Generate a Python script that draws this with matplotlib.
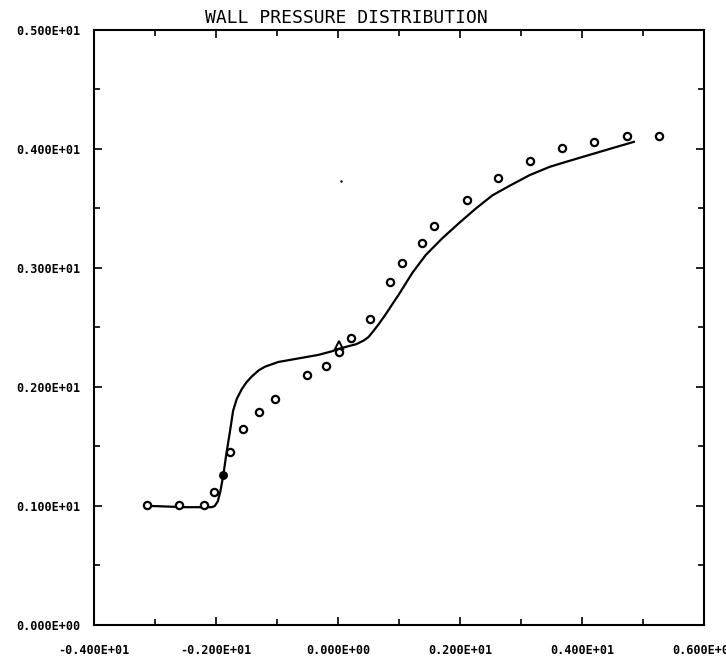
import numpy as np
import matplotlib
matplotlib.use('Agg')
import matplotlib.pyplot as plt
from matplotlib.ticker import MultipleLocator, FuncFormatter

# computed wall pressure (solid line)
calc_x = [-3.06, -2.51, -2.07, -2.02, -1.97, -1.93, -1.88, -1.83, -1.77, -1.72,
          -1.66, -1.58, -1.50, -1.41, -1.30, -1.20, -0.98, -0.65, -0.32, -0.10,
          0.01, 0.15, 0.30, 0.42, 0.50, 0.58, 0.67, 0.78, 1.00, 1.22,
          1.44, 1.71, 1.99, 2.26, 2.53, 2.81, 3.14, 3.47, 3.79, 4.12,
          4.45, 4.85]
calc_p = [1.00, 0.99, 0.99, 1.00, 1.04, 1.12, 1.26, 1.44, 1.63, 1.80,
          1.90, 1.98, 2.04, 2.09, 2.14, 2.17, 2.21, 2.24, 2.27, 2.30,
          2.32, 2.34, 2.36, 2.39, 2.42, 2.47, 2.53, 2.61, 2.78, 2.96,
          3.11, 3.25, 3.38, 3.50, 3.61, 3.69, 3.78, 3.85, 3.90, 3.95,
          4.00, 4.06]

# measured wall pressure (open circles)
meas_x = [-3.13, -2.61, -2.19, -2.03, -1.77, -1.56, -1.30, -1.04, -0.51, -0.20,
          0.01, 0.22, 0.53, 0.85, 1.05, 1.37, 1.58, 2.11, 2.63, 3.15,
          3.68, 4.20, 4.73, 5.26]
meas_p = [1.01, 1.01, 1.01, 1.12, 1.45, 1.65, 1.79, 1.90, 2.10, 2.18,
          2.29, 2.41, 2.57, 2.88, 3.04, 3.21, 3.35, 3.57, 3.76, 3.90,
          4.01, 4.06, 4.11, 4.11]

# special symbols
solid_x, solid_p = [-1.88], [1.26]
tri_x, tri_p = [0.01], [2.35]
speck_x, speck_p = [0.05], [3.73]


def fortran_fmt(v, pos=None):
    if abs(v) < 1e-12:
        return '0.000E+00'
    e = int(np.floor(np.log10(abs(v)))) + 1
    m = v / 10.0**e
    return f'{m:.3f}E{e:+03d}'


fig = plt.figure(figsize=(7.26, 6.62), dpi=100)
fig.patch.set_facecolor('white')
ax = fig.add_axes([0.1295, 0.0559, 0.8402, 0.8988])

ax.plot(calc_x, calc_p, color='black', lw=1.6, solid_joinstyle='round')
ax.plot(meas_x, meas_p, 'o', ms=5.2, mfc='white', mec='black', mew=1.6)
ax.plot(solid_x, solid_p, 'o', ms=5.2, mfc='black', mec='black', mew=1.2)
ax.plot(tri_x, tri_p, '^', ms=6, mfc='none', mec='black', mew=1.4)
ax.plot(speck_x, speck_p, '.', ms=1.5, color='black')

ax.set_xlim(-4, 6)
ax.set_ylim(0, 5)
ax.xaxis.set_major_locator(MultipleLocator(2))
ax.xaxis.set_minor_locator(MultipleLocator(1))
ax.yaxis.set_major_locator(MultipleLocator(1))
ax.yaxis.set_minor_locator(MultipleLocator(0.5))
ax.xaxis.set_major_formatter(FuncFormatter(fortran_fmt))
ax.yaxis.set_major_formatter(FuncFormatter(fortran_fmt))

for s in ax.spines.values():
    s.set_linewidth(1.5)
ax.tick_params(which='both', direction='in', top=True, right=True, width=1.2)
ax.tick_params(which='major', length=6)
ax.tick_params(which='minor', length=4)
ax.tick_params(axis='y', which='major', pad=10)
ax.tick_params(axis='x', which='major', pad=14)
for lbl in ax.get_xticklabels() + ax.get_yticklabels():
    lbl.set_fontfamily('DejaVu Sans Mono')
    lbl.set_fontweight('bold')
    lbl.set_fontsize(8.5)

fig.text(0.4766, 0.9728, 'WALL PRESSURE DISTRIBUTION', ha='center', va='center',
         fontsize=13, family='DejaVu Sans Mono', color='black')

fig.savefig('out.png', dpi=100, facecolor='white')
